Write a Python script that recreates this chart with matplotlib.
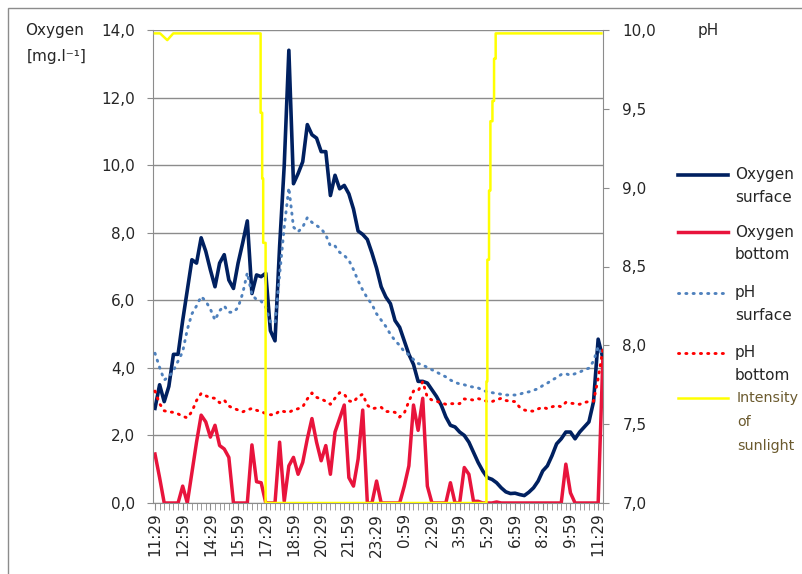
import numpy as np
import matplotlib.pyplot as plt
from matplotlib.ticker import FixedLocator, FuncFormatter
from matplotlib.patches import Rectangle
from matplotlib.lines import Line2D

plt.rcParams['font.family'] = ['DejaVu Sans']

# 15-min samples, 11:29 -> 11:44 next day
oxy_surface = [2.8, 3.5, 3.0, 3.45, 4.4, 4.4, 5.4, 6.3, 7.2, 7.1,
               7.85, 7.45, 6.9, 6.4, 7.1, 7.35, 6.6, 6.35, 7.1, 7.7,
               8.35, 6.2, 6.75, 6.7, 6.8, 5.1, 4.8, 7.6, 10.0, 13.4,
               9.45, 9.75, 10.1, 11.2, 10.9, 10.8, 10.4, 10.4, 9.1, 9.7,
               9.3, 9.4, 9.15, 8.7, 8.05, 7.95, 7.8, 7.4, 6.95, 6.4,
               6.1, 5.9, 5.4, 5.2, 4.8, 4.4, 4.1, 3.6, 3.6, 3.55,
               3.35, 3.15, 2.9, 2.55, 2.3, 2.25, 2.1, 2.0, 1.8, 1.5,
               1.2, 0.95, 0.75, 0.7, 0.6, 0.45, 0.33, 0.28, 0.29, 0.25,
               0.22, 0.32, 0.45, 0.65, 0.95, 1.1, 1.4, 1.75, 1.9, 2.1,
               2.1, 1.9, 2.1, 2.25, 2.4, 3.0, 4.85, 4.3]

oxy_bottom = [1.45, 0.75, 0, 0, 0, 0, 0.5, 0, 0.9, 1.8,
              2.6, 2.4, 1.95, 2.3, 1.7, 1.6, 1.35, 0, 0, 0,
              0, 1.72, 0.63, 0.6, 0, 0, 0, 1.8, 0.05, 1.1,
              1.35, 0.85, 1.2, 1.9, 2.5, 1.8, 1.25, 1.7, 0.85, 2.1,
              2.5, 2.9, 0.75, 0.5, 1.3, 2.75, 0, 0, 0.65, 0,
              0, 0, 0, 0, 0.5, 1.1, 2.9, 2.15, 3.1, 0.5,
              0, 0, 0, 0, 0.6, 0, 0, 1.05, 0.85, 0.05,
              0.05, 0, 0, 0, 0.03, 0, 0, 0, 0, 0,
              0, 0, 0, 0, 0, 0, 0, 0, 0, 1.15,
              0.3, 0, 0, 0, 0, 0, 0, 4.2]

ph_surface = [7.95, 7.86, 7.78, 7.80, 7.84, 7.90, 7.96, 8.10, 8.20, 8.25,
              8.31, 8.28, 8.23, 8.16, 8.22, 8.25, 8.21, 8.21, 8.24, 8.33,
              8.46, 8.32, 8.29, 8.28, 8.24, 8.15, 8.14, 8.45, 8.75, 9.0,
              8.75, 8.72, 8.75, 8.81, 8.78, 8.76, 8.74, 8.70, 8.63, 8.63,
              8.59, 8.57, 8.54, 8.48, 8.41, 8.35, 8.30, 8.26, 8.20, 8.16,
              8.12, 8.07, 8.03, 8.00, 7.96, 7.94, 7.91, 7.885, 7.875, 7.86,
              7.845, 7.83, 7.815, 7.80, 7.78, 7.765, 7.755, 7.75, 7.74, 7.735,
              7.73, 7.715, 7.705, 7.70, 7.695, 7.69, 7.685, 7.685, 7.685, 7.69,
              7.70, 7.705, 7.715, 7.725, 7.745, 7.76, 7.78, 7.795, 7.815, 7.82,
              7.81, 7.82, 7.83, 7.845, 7.855, 7.90, 7.99, 7.93]

ph_bottom = [7.71, 7.63, 7.585, 7.578, 7.575, 7.565, 7.55, 7.54, 7.58, 7.65,
             7.695, 7.68, 7.668, 7.664, 7.636, 7.653, 7.615, 7.60, 7.59, 7.578,
             7.59, 7.60, 7.588, 7.58, 7.567, 7.56, 7.56, 7.585, 7.58, 7.575,
             7.59, 7.598, 7.61, 7.66, 7.698, 7.67, 7.66, 7.645, 7.626, 7.665,
             7.70, 7.69, 7.648, 7.64, 7.675, 7.69, 7.62, 7.598, 7.603, 7.607,
             7.58, 7.58, 7.575, 7.545, 7.57, 7.645, 7.71, 7.71, 7.77, 7.67,
             7.653, 7.645, 7.636, 7.626, 7.63, 7.63, 7.63, 7.66, 7.657, 7.653,
             7.662, 7.655, 7.643, 7.643, 7.655, 7.664, 7.65, 7.646, 7.643, 7.607,
             7.59, 7.583, 7.583, 7.597, 7.607, 7.598, 7.61, 7.618, 7.61, 7.638,
             7.633, 7.63, 7.626, 7.638, 7.643, 7.645, 7.79, 7.97]

# sunlight, position in sample units (finer logging), on oxygen scale
sun_x = [0, 1.1, 2.66, 3.96, 22.88, 22.88, 23.22, 23.22, 23.44, 23.44, 23.96, 23.96,
         71.8, 71.8, 72.0, 72.0, 72.36, 72.36, 72.66, 72.66, 73.1, 73.1, 73.45, 73.45,
         73.8, 73.8, 96.7]
sun_v = [13.9, 13.9, 13.7, 13.9, 13.9, 11.55, 11.55, 9.6, 9.6, 7.7, 7.7, 0,
         0, 3.6, 3.6, 7.2, 7.2, 9.25, 9.25, 11.3, 11.3, 11.9, 11.9, 13.15,
         13.15, 13.9, 13.9]

time_labels = ["11:29", "12:59", "14:29", "15:59", "17:29", "18:59", "20:29",
               "21:59", "23:29", "0:59", "2:29", "3:59", "5:29", "6:59",
               "8:29", "9:59", "11:29"]

legend_labels = [["Oxygen", "surface"], ["Oxygen", "bottom"], ["pH", "surface"],
                 ["pH", "bottom"], ["Intensity", "of", "sunlight"]]

t = np.arange(len(oxy_surface))
grey = "#8c8c8c"
txt = "#262626"
W, H = 803, 574
dots = (0, (0.4, 2.1))

styles = [dict(color="#002060", lw=2.6, ls="-"),
          dict(color="#E8143C", lw=2.5, ls="-"),
          dict(color="#4F81BD", lw=2.1, ls=dots),
          dict(color="#FF0000", lw=2.1, ls=dots),
          dict(color="#FFFF00", lw=1.8, ls="-")]

fig = plt.figure(figsize=(8.03, 5.74), dpi=100)
ax = fig.add_axes([153 / W, 1 - 503 / H, 450 / W, 473 / H])
ax2 = ax.twinx()

ax.plot(t, oxy_surface, **styles[0])
ax.plot(t, oxy_bottom, **styles[1])
ax2.plot(t, ph_surface, dash_capstyle="round", **styles[2])
ax2.plot(t, ph_bottom, dash_capstyle="round", **styles[3])
ax2.plot(sun_x, sun_v, transform=ax.transData, **styles[4])

ax.set_xlim(-0.43, 97.05)
ax.set_ylim(0, 14)
ax2.set_ylim(7, 10)
ax.set_yticks(np.arange(0, 14.1, 2))
ax2.set_yticks(np.arange(7, 10.01, 0.5))
comma = FuncFormatter(lambda v, p: f"{v:.1f}".replace(".", ","))
ax.yaxis.set_major_formatter(comma)
ax2.yaxis.set_major_formatter(comma)

ax.xaxis.set_major_locator(FixedLocator(np.arange(0, 97, 6)))
ax.set_xticklabels(time_labels, rotation=90)
ax.xaxis.set_minor_locator(FixedLocator(t))

ax.grid(axis="y", color=grey, lw=1)
ax.set_axisbelow(True)
for a in (ax, ax2):
    for s in a.spines.values():
        s.set_color(grey)
    a.spines["top"].set_visible(False)
ax.spines["right"].set_visible(False)
ax2.spines["left"].set_visible(False)
ax2.spines["bottom"].set_visible(False)

ax.tick_params(axis="y", length=4, color=grey, labelsize=11, labelcolor=txt, pad=9)
ax2.tick_params(axis="y", length=4, color=grey, labelsize=11, labelcolor=txt, pad=10)
ax.tick_params(axis="x", which="both", length=5, color=grey, labelsize=11,
               labelcolor=txt, pad=2)

fig.text(55 / W, 1 - 30 / H, "Oxygen", fontsize=11, color=txt, ha="center", va="center")
fig.text(57 / W, 1 - 57 / H, "[mg.l\u207b\u00b9]", fontsize=11, color=txt,
         ha="center", va="center")
fig.text(708 / W, 1 - 31 / H, "pH", fontsize=11, color=txt, ha="center", va="center")

# legend, first text line level with the handle
rows = [175, 232, 293, 353, 398]
for st, lab, y0 in zip(styles, legend_labels, rows):
    fig.add_artist(Line2D([678 / W, 728 / W], [1 - y0 / H] * 2, transform=fig.transFigure,
                          dash_capstyle="round", **st))
    sun = lab[0] == "Intensity"
    col = "#6B5A2E" if sun else txt
    x0 = 737 if sun else 735
    step = 24 if sun else 22.5
    for k, word in enumerate(lab):
        fig.text(x0 / W, 1 - (y0 + k * step) / H, word, fontsize=10.3 if sun else 11,
                 color=col, ha="left", va="center")

fig.patches.append(Rectangle((8 / W, -0.1), 1.2, 1.1 - 8 / H,
                             transform=fig.transFigure, fill=False,
                             edgecolor=grey, lw=1))

fig.savefig("out.png", dpi=100)
